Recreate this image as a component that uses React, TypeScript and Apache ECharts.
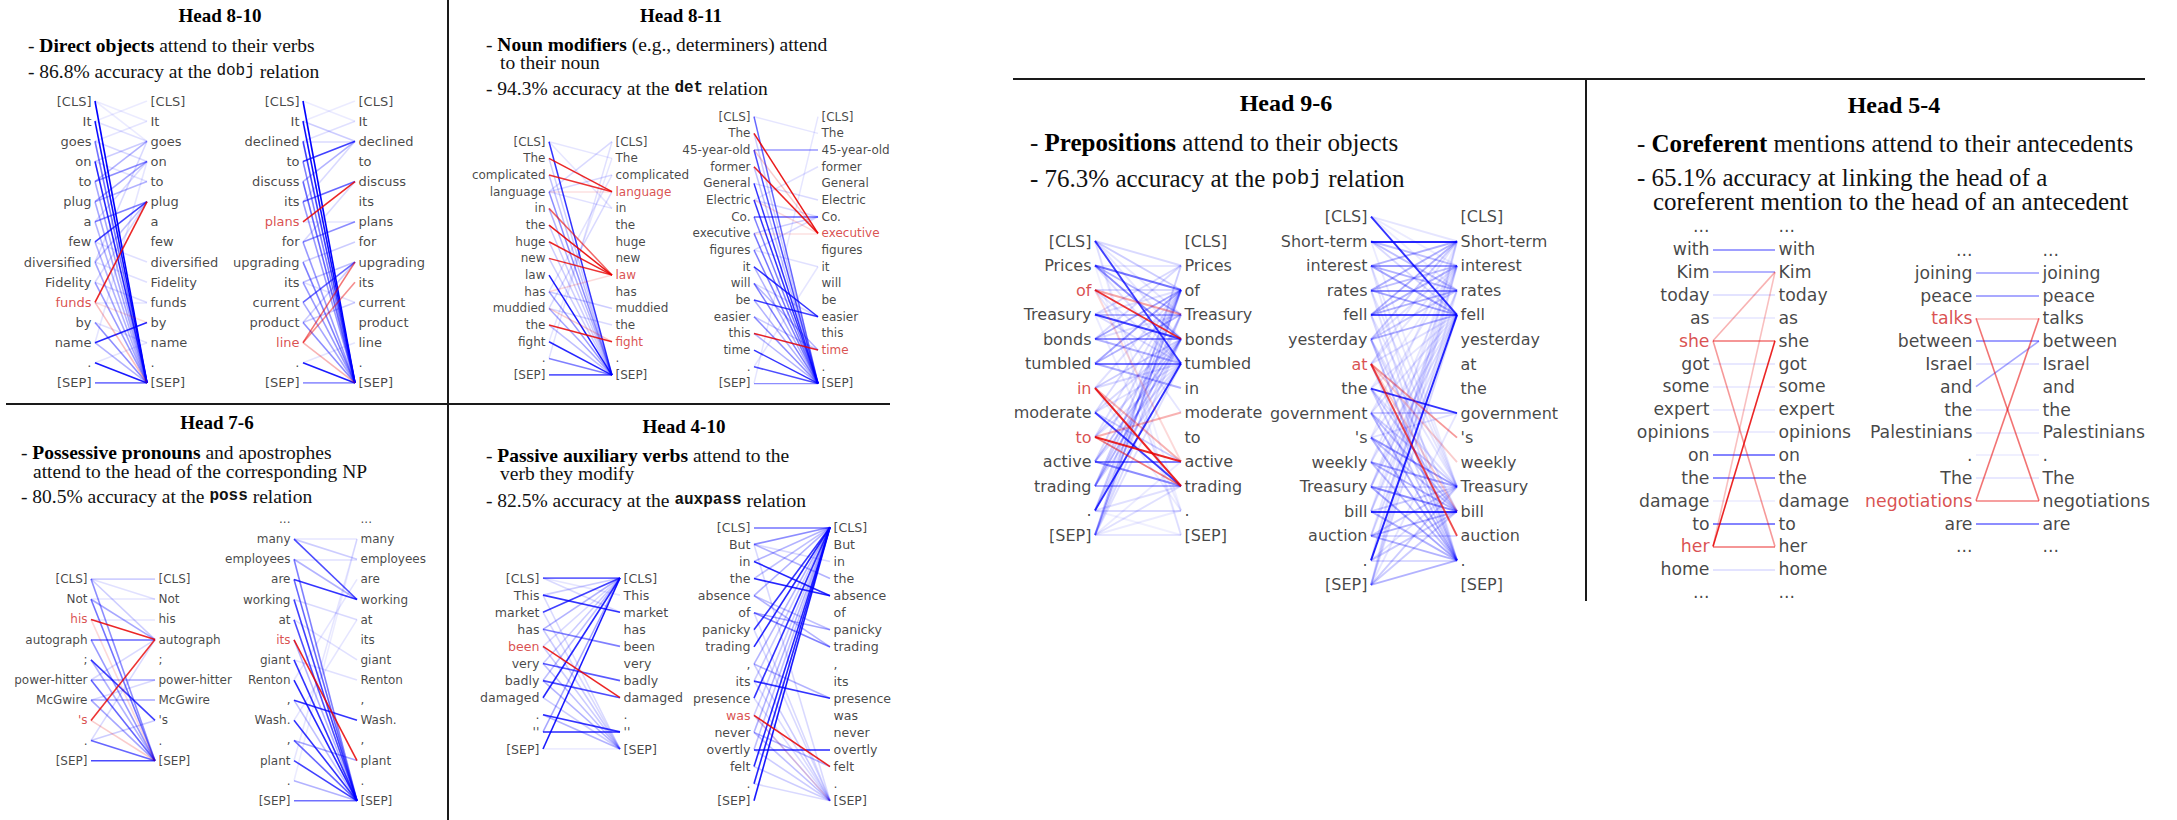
import React, { useEffect, useRef } from "react";
import * as echarts from "echarts";

type Edge = [number, number, number]; // [source token, target token, attention weight]

// ---------- tokens ----------
const tokensDobjA = ["[CLS]", "It", "goes", "on", "to", "plug", "a", "few", "diversified", "Fidelity", "funds", "by", "name", ".", "[SEP]"];
const tokensDobjB = ["[CLS]", "It", "declined", "to", "discuss", "its", "plans", "for", "upgrading", "its", "current", "product", "line", ".", "[SEP]"];
const tokensDetA = ["[CLS]", "The", "complicated", "language", "in", "the", "huge", "new", "law", "has", "muddied", "the", "fight", ".", "[SEP]"];
const tokensDetB = ["[CLS]", "The", "45-year-old", "former", "General", "Electric", "Co.", "executive", "figures", "it", "will", "be", "easier", "this", "time", ".", "[SEP]"];
const tokensPossA = ["[CLS]", "Not", "his", "autograph", ";", "power-hitter", "McGwire", "'s", ".", "[SEP]"];
const tokensPossB = ["...", "many", "employees", "are", "working", "at", "its", "giant", "Renton", ",", "Wash.", ",", "plant", ".", "[SEP]"];
const tokensAuxA = ["[CLS]", "This", "market", "has", "been", "very", "badly", "damaged", ".", "''", "[SEP]"];
const tokensAuxB = ["[CLS]", "But", "in", "the", "absence", "of", "panicky", "trading", ",", "its", "presence", "was", "never", "overtly", "felt", ".", "[SEP]"];
const tokensPobjA = ["[CLS]", "Prices", "of", "Treasury", "bonds", "tumbled", "in", "moderate", "to", "active", "trading", ".", "[SEP]"];
const tokensPobjB = ["[CLS]", "Short-term", "interest", "rates", "fell", "yesterday", "at", "the", "government", "'s", "weekly", "Treasury", "bill", "auction", ".", "[SEP]"];
const tokensCorefA = ["...", "with", "Kim", "today", "as", "she", "got", "some", "expert", "opinions", "on", "the", "damage", "to", "her", "home", "..."];
const tokensCorefB = ["...", "joining", "peace", "talks", "between", "Israel", "and", "the", "Palestinians", ".", "The", "negotiations", "are", "..."];

// ---------- attention weights ----------
const attnDobjA: Edge[] = [[0,14,1.0],[1,14,0.95],[2,14,0.55],[3,14,0.85],[4,14,0.35],[5,14,0.35],[6,14,0.3],[7,14,0.3],[8,14,0.35],[9,14,0.4],[11,14,0.45],[12,14,0.3],[13,14,0.9],[14,14,0.7],[4,3,0.45],[4,2,0.3],[5,3,0.35],[5,4,0.3],[6,5,0.5],[7,5,0.75],[8,5,0.25],[8,2,0.15],[9,5,0.15],[9,10,0.15],[12,11,0.85],[2,3,0.15],[3,2,0.2],[1,2,0.12],[2,1,0.1],[0,1,0.08],[0,2,0.08],[1,0,0.08],[3,4,0.12],[6,3,0.15],[7,8,0.12],[8,9,0.12],[11,12,0.12],[12,3,0.1],[13,12,0.1],[10,10,0.1]];
const relDobjA: Edge[] = [[10,5,0.85],[10,14,0.25],[10,11,0.12]];
const attnDobjB: Edge[] = [[0,14,1.0],[1,14,0.95],[2,14,0.75],[3,14,0.5],[4,14,0.6],[5,14,0.4],[7,14,0.4],[8,14,0.5],[9,14,0.4],[10,14,0.35],[11,14,0.45],[13,14,0.9],[14,14,0.55],[3,2,0.75],[5,4,0.6],[7,6,0.45],[10,8,0.6],[4,2,0.3],[1,2,0.2],[2,2,0.15],[8,7,0.2],[9,8,0.25],[11,10,0.2],[11,8,0.2],[2,1,0.12],[1,0,0.08],[0,1,0.08],[5,2,0.15],[7,4,0.15],[6,6,0.1],[9,10,0.12],[13,12,0.1]];
const relDobjB: Edge[] = [[6,4,0.85],[12,8,0.55],[12,9,0.45],[12,14,0.3]];
const attnDetA: Edge[] = [[0,14,0.8],[8,14,0.9],[12,14,0.85],[14,14,0.85],[13,14,0.5],[3,14,0.45],[9,14,0.4],[10,14,0.35],[2,14,0.25],[1,14,0.2],[4,14,0.3],[5,14,0.2],[6,14,0.2],[7,14,0.2],[11,14,0.25],[9,10,0.2],[10,11,0.15],[3,2,0.15],[0,1,0.1],[3,0,0.15],[13,0,0.12],[12,1,0.1],[10,3,0.15],[9,2,0.12],[0,4,0.1],[3,4,0.12]];
const relDetA: Edge[] = [[1,3,0.85],[2,3,0.8],[4,8,0.6],[5,8,0.9],[6,8,0.85],[7,8,0.8],[11,12,0.85],[10,12,0.2],[9,8,0.15],[3,3,0.12]];
const attnDetB: Edge[] = [[0,16,0.6],[2,16,0.7],[4,16,0.8],[5,16,0.8],[6,16,0.5],[7,16,0.55],[8,16,0.5],[9,12,0.8],[10,16,0.5],[11,12,0.75],[12,16,0.45],[14,16,0.8],[15,16,0.7],[16,16,0.6],[2,2,0.4],[6,6,0.6],[9,16,0.3],[11,16,0.3],[13,16,0.3],[10,14,0.3],[12,14,0.2],[7,6,0.2],[0,1,0.1],[4,5,0.15],[5,6,0.15],[3,16,0.25],[1,16,0.2],[8,6,0.15],[10,12,0.15],[13,14,0.1],[5,3,0.12],[8,9,0.12],[15,9,0.1],[16,0,0.1]];
const relDetB: Edge[] = [[1,7,0.9],[3,7,0.85],[13,14,0.85],[2,7,0.2],[5,7,0.15],[7,7,0.12]];
const attnPossA: Edge[] = [[0,0,0.25],[0,9,0.45],[0,3,0.2],[1,9,0.55],[1,3,0.35],[3,3,0.6],[3,9,0.4],[4,7,0.75],[4,9,0.3],[5,5,0.35],[5,9,0.6],[6,6,0.35],[6,9,0.35],[8,9,0.6],[8,3,0.15],[9,9,0.95],[0,1,0.12],[1,1,0.1],[6,5,0.15],[8,7,0.2],[5,3,0.15],[2,2,0.1]];
const relPossA: Edge[] = [[2,3,0.85],[7,3,0.8],[7,9,0.2],[2,9,0.15]];
const attnPossB: Edge[] = [[1,4,0.7],[1,2,0.2],[2,14,0.5],[2,4,0.3],[3,4,0.8],[3,14,0.6],[4,14,0.75],[5,14,0.7],[7,14,0.8],[8,14,0.85],[9,10,0.8],[10,14,0.8],[11,12,0.35],[11,14,0.6],[12,14,0.75],[13,14,0.3],[14,14,0.75],[12,1,0.1],[8,3,0.1],[10,5,0.1],[13,1,0.08],[1,1,0.1],[6,14,0.3],[9,14,0.25],[4,5,0.15],[7,8,0.12],[2,2,0.12],[5,7,0.12]];
const relPossB: Edge[] = [[6,12,0.85]];
const attnAuxA: Edge[] = [[0,0,0.8],[1,2,0.8],[2,0,0.75],[3,4,0.5],[5,6,0.65],[6,7,0.7],[7,0,0.85],[8,9,0.8],[9,9,0.85],[10,0,0.9],[9,0,0.35],[3,0,0.3],[5,0,0.2],[6,0,0.25],[1,0,0.2],[2,10,0.15],[1,10,0.15],[3,10,0.2],[4,10,0.2],[5,10,0.25],[6,10,0.3],[7,10,0.2],[8,10,0.3],[0,2,0.15],[0,1,0.1],[4,0,0.15],[10,10,0.1]];
const relAuxA: Edge[] = [[4,7,0.85]];
const attnAuxB: Edge[] = [[0,0,0.55],[1,0,0.45],[2,4,0.85],[3,4,0.85],[4,0,0.3],[5,7,0.5],[5,6,0.35],[6,0,0.8],[7,0,0.85],[8,0,0.3],[9,10,0.8],[10,0,0.8],[12,0,0.3],[13,13,0.85],[14,0,0.85],[15,0,0.85],[16,0,0.9],[1,3,0.3],[4,6,0.25],[4,7,0.3],[8,10,0.3],[8,16,0.2],[12,16,0.25],[13,16,0.2],[14,16,0.2],[15,16,0.15],[11,16,0.2],[10,16,0.15],[9,16,0.15],[1,16,0.15],[5,16,0.15],[12,14,0.3],[2,0,0.3],[3,0,0.25],[6,16,0.15],[1,2,0.15],[9,0,0.2],[11,0,0.2],[13,0,0.25]];
const relAuxB: Edge[] = [[11,14,0.85],[11,16,0.12]];
const attnPobjA: Edge[] = [[0,5,0.75],[0,1,0.15],[0,2,0.2],[1,2,0.55],[1,4,0.45],[1,3,0.3],[2,2,0.15],[3,4,0.75],[3,3,0.3],[3,1,0.15],[4,4,0.45],[4,2,0.35],[4,5,0.3],[4,1,0.15],[5,5,0.55],[5,2,0.35],[5,3,0.3],[5,6,0.3],[6,4,0.2],[7,10,0.75],[7,9,0.2],[7,4,0.15],[8,4,0.15],[9,9,0.5],[9,10,0.45],[9,4,0.25],[9,2,0.15],[10,10,0.35],[10,4,0.3],[10,3,0.2],[10,2,0.2],[11,5,0.8],[11,2,0.2],[11,11,0.15],[12,2,0.35],[12,1,0.2],[12,4,0.15],[12,12,0.1],[12,10,0.12],[11,10,0.12],[2,7,0.1],[0,12,0.08],[3,11,0.08],[6,11,0.08],
  [0,3,0.1],[0,4,0.1],[1,5,0.12],[2,5,0.12],[3,5,0.15],[6,5,0.15],[6,2,0.12],[7,2,0.15],[7,5,0.12],[8,2,0.12],[8,5,0.12],[9,5,0.15],[10,5,0.15],[11,4,0.15],[11,3,0.12],[12,3,0.12],[12,5,0.12],[3,2,0.12],[1,1,0.1],[4,3,0.12],[12,9,0.08],[12,11,0.08],[11,12,0.06],[0,11,0.06],[1,12,0.06]];
const relPobjA: Edge[] = [[2,4,0.8],[2,3,0.35],[6,10,0.85],[6,9,0.3],[8,9,0.85],[8,10,0.5],[8,7,0.3],[2,9,0.15]];
const attnPobjB: Edge[] = [[0,4,0.8],[0,1,0.1],[1,1,0.85],[1,2,0.25],[1,3,0.25],[2,2,0.4],[2,1,0.3],[2,3,0.3],[2,4,0.35],[3,3,0.45],[3,1,0.3],[3,2,0.25],[3,4,0.35],[4,4,0.7],[4,1,0.3],[4,2,0.3],[4,3,0.3],[5,4,0.3],[5,3,0.2],[5,1,0.2],[5,14,0.25],[5,12,0.15],[6,14,0.15],[7,8,0.8],[7,14,0.2],[7,12,0.2],[8,14,0.3],[8,12,0.25],[8,11,0.2],[8,8,0.2],[9,11,0.4],[9,14,0.3],[9,12,0.25],[10,11,0.35],[10,12,0.3],[10,14,0.25],[11,12,0.45],[11,14,0.35],[11,11,0.15],[12,12,0.8],[12,14,0.3],[12,11,0.2],[13,14,0.3],[13,12,0.3],[13,11,0.2],[13,13,0.15],[14,4,0.85],[14,12,0.2],[14,14,0.15],[15,14,0.3],[15,11,0.2],[15,12,0.2],[15,4,0.15],[15,2,0.1],[14,1,0.1],[11,3,0.1],[6,1,0.1],
  [0,2,0.08],[0,3,0.08],[1,4,0.15],[1,11,0.08],[2,11,0.1],[2,14,0.1],[3,14,0.12],[3,11,0.1],[4,14,0.15],[4,11,0.1],[5,2,0.12],[5,11,0.1],[6,4,0.12],[6,2,0.1],[7,4,0.1],[7,11,0.12],[8,4,0.12],[8,2,0.1],[9,4,0.1],[9,8,0.12],[10,4,0.12],[10,2,0.1],[11,4,0.15],[11,2,0.1],[12,4,0.12],[12,3,0.1],[13,4,0.15],[13,2,0.1],[14,2,0.1],[14,11,0.12],[15,1,0.1],[15,3,0.1],[15,8,0.1],[12,1,0.08],[9,1,0.08],[7,2,0.08]];
const relPobjB: Edge[] = [[6,13,0.7],[6,9,0.4],[6,10,0.2],[6,12,0.2]];
const attnCorefA: Edge[] = [[1,1,0.5],[2,2,0.4],[3,3,0.15],[4,4,0.1],[6,6,0.12],[7,7,0.1],[8,8,0.1],[9,9,0.1],[10,10,0.65],[11,11,0.6],[12,12,0.08],[13,13,0.65],[15,15,0.15]];
const relCorefA: Edge[] = [[5,5,0.55],[5,2,0.3],[5,14,0.4],[14,14,0.55],[14,5,0.85],[14,2,0.25]];
const attnCorefB: Edge[] = [[1,1,0.4],[2,2,0.45],[4,4,0.5],[5,5,0.15],[6,4,0.35],[7,7,0.12],[8,8,0.1],[9,9,0.08],[10,10,0.12],[12,12,0.6]];
const relCorefB: Edge[] = [[3,3,0.25],[3,11,0.55],[11,11,0.5],[11,3,0.55]];

// tokens printed in red on the left / right column
const redLeftDobjA = [10], redLeftDobjB = [6, 12];
const redRightDetA = [3, 8, 12], redRightDetB = [7, 14];
const redLeftPossA = [2, 7], redLeftPossB = [6];
const redLeftAuxA = [4], redLeftAuxB = [11];
const redLeftPobjA = [2, 6, 8], redLeftPobjB = [6];
const redLeftCorefA = [5, 14], redLeftCorefB = [3, 11];

// ---------- panel texts ----------
const panelTitles = ["Head 8-10", "Head 8-11", "Head 7-6", "Head 4-10", "Head 9-6", "Head 5-4"];
const panelNotes = [
  ["- {b|Direct objects} attend to their verbs", "- 86.8% accuracy at the {m|dobj} relation"],
  ["- {b|Noun modifiers} (e.g., determiners) attend", "to their noun", "- 94.3% accuracy at the {mb|det} relation"],
  ["- {b|Possessive pronouns} and apostrophes", "attend to the head of the corresponding NP", "- 80.5% accuracy at the {mb|poss} relation"],
  ["- {b|Passive auxiliary verbs} attend to the", "verb they modify", "- 82.5% accuracy at the {mb|auxpass} relation"],
  ["- {b|Prepositions} attend to their objects", "- 76.3% accuracy at the {m|pobj} relation"],
  ["- {b|Coreferent} mentions attend to their antecedents", "- 65.1% accuracy at linking the head of a", "coreferent mention to the head of an antecedent"],
];

// ---------- layout ----------
const diagrams = [
  { tokens: tokensDobjA, blue: attnDobjA, red: relDobjA, leftRed: redLeftDobjA, rightRed: [] as number[] },
  { tokens: tokensDobjB, blue: attnDobjB, red: relDobjB, leftRed: redLeftDobjB, rightRed: [] as number[] },
  { tokens: tokensDetA, blue: attnDetA, red: relDetA, leftRed: [] as number[], rightRed: redRightDetA },
  { tokens: tokensDetB, blue: attnDetB, red: relDetB, leftRed: [] as number[], rightRed: redRightDetB },
  { tokens: tokensPossA, blue: attnPossA, red: relPossA, leftRed: redLeftPossA, rightRed: [] as number[] },
  { tokens: tokensPossB, blue: attnPossB, red: relPossB, leftRed: redLeftPossB, rightRed: [] as number[] },
  { tokens: tokensAuxA, blue: attnAuxA, red: relAuxA, leftRed: redLeftAuxA, rightRed: [] as number[] },
  { tokens: tokensAuxB, blue: attnAuxB, red: relAuxB, leftRed: redLeftAuxB, rightRed: [] as number[] },
  { tokens: tokensPobjA, blue: attnPobjA, red: relPobjA, leftRed: redLeftPobjA, rightRed: [] as number[] },
  { tokens: tokensPobjB, blue: attnPobjB, red: relPobjB, leftRed: redLeftPobjB, rightRed: [] as number[] },
  { tokens: tokensCorefA, blue: attnCorefA, red: relCorefA, leftRed: redLeftCorefA, rightRed: [] as number[] },
  { tokens: tokensCorefB, blue: attnCorefB, red: relCorefB, leftRed: redLeftCorefB, rightRed: [] as number[] },
];

const diagramBoxes = [
  { x0: 95, x1: 147, top: 101, row: 20.14, font: 13, lw: 1.6 },
  { x0: 303, x1: 355, top: 101, row: 20.14, font: 13, lw: 1.6 },
  { x0: 549, x1: 612, top: 141.7, row: 16.67, font: 12, lw: 1.5 },
  { x0: 754, x1: 818, top: 116.7, row: 16.67, font: 12, lw: 1.5 },
  { x0: 91, x1: 155, top: 579, row: 20.2, font: 12, lw: 1.6 },
  { x0: 294, x1: 357, top: 519, row: 20.13, font: 12, lw: 1.6 },
  { x0: 543, x1: 620, top: 578, row: 17.1, font: 12.6, lw: 1.6 },
  { x0: 754, x1: 830, top: 527.3, row: 17.09, font: 12.6, lw: 1.6 },
  { x0: 1095, x1: 1181, top: 241, row: 24.5, font: 16, lw: 1.9 },
  { x0: 1371, x1: 1457, top: 216.7, row: 24.55, font: 16, lw: 1.9 },
  { x0: 1713, x1: 1775, top: 226.4, row: 22.86, font: 17.3, lw: 1.6 },
  { x0: 1976, x1: 2039, top: 249.9, row: 22.8, font: 17.3, lw: 1.6 },
];

const panelBoxes = [
  { cx: 220, ty: 15, size: 19.5, titleSize: 19, lines: [[28, 45], [28, 71]] },
  { cx: 681, ty: 15, size: 19.5, titleSize: 19, lines: [[486, 44], [500, 62.5], [486, 88]] },
  { cx: 217, ty: 422, size: 19.5, titleSize: 19, lines: [[21, 452.5], [33, 471], [21, 496]] },
  { cx: 684, ty: 426, size: 19.5, titleSize: 19, lines: [[486, 455], [500, 473.5], [486, 500]] },
  { cx: 1286, ty: 103, size: 25, titleSize: 24, lines: [[1030, 142], [1030, 178]] },
  { cx: 1894, ty: 105, size: 25, titleSize: 24, lines: [[1637, 143], [1637, 177.5], [1653, 201.5]] },
];

const INK = "#151515";
const RED_TEXT = "#d02424";
const BLUE_LINE = "#0000ff";
const RED_LINE = "#e80000";
const SERIF = "'Liberation Serif', 'DejaVu Serif', serif";
const MONO = "'Liberation Mono', 'DejaVu Sans Mono', monospace";
const SANS = "'DejaVu Sans', sans-serif";

function buildOption() {
  const grid: any[] = [];
  const xAxis: any[] = [];
  const yAxis: any[] = [];
  const series: any[] = [];

  diagrams.forEach((d, k) => {
    const b = diagramBoxes[k];
    const n = d.tokens.length;
    grid.push({ left: b.x0, top: b.top, width: b.x1 - b.x0, height: b.row * (n - 1), containLabel: false });
    xAxis.push({ gridIndex: k, type: "value", min: 0, max: 1, show: false });
    yAxis.push({ gridIndex: k, type: "value", min: 0, max: n - 1, inverse: true, show: false });

    const edgeData = (edges: Edge[]) =>
      edges.map(([a, c, w]) => ({ coords: [[0, a], [1, c]], lineStyle: { opacity: w } }));

    series.push({
      type: "lines", coordinateSystem: "cartesian2d", xAxisIndex: k, yAxisIndex: k, silent: true, z: 2,
      lineStyle: { color: BLUE_LINE, width: b.lw, curveness: 0 },
      data: edgeData(d.blue),
    });
    series.push({
      type: "lines", coordinateSystem: "cartesian2d", xAxisIndex: k, yAxisIndex: k, silent: true, z: 3,
      lineStyle: { color: RED_LINE, width: b.lw, curveness: 0 },
      data: edgeData(d.red),
    });

    const labelBase = { show: true, formatter: "{b}", fontFamily: SANS, fontSize: b.font, color: INK };
    series.push({
      type: "scatter", xAxisIndex: k, yAxisIndex: k, silent: true, z: 4,
      symbolSize: 1, itemStyle: { color: "rgba(0,0,0,0)" },
      label: { ...labelBase, position: "left", distance: 3 },
      data: d.tokens.map((t, i) => ({ name: t, value: [0, i], label: { color: d.leftRed.includes(i) ? RED_TEXT : INK } })),
    });
    series.push({
      type: "scatter", xAxisIndex: k, yAxisIndex: k, silent: true, z: 4,
      symbolSize: 1, itemStyle: { color: "rgba(0,0,0,0)" },
      label: { ...labelBase, position: "right", distance: 3 },
      data: d.tokens.map((t, i) => ({ name: t, value: [1, i], label: { color: d.rightRed.includes(i) ? RED_TEXT : INK } })),
    });
  });

  const graphic: any[] = [];
  panelBoxes.forEach((p, k) => {
    graphic.push({
      type: "text", x: p.cx, y: p.ty, silent: true,
      style: { text: panelTitles[k], fontFamily: SERIF, fontWeight: "bold", fontSize: p.titleSize, fill: "#000", align: "center", verticalAlign: "middle" },
    });
    panelNotes[k].forEach((t, j) => {
      const [x, y] = p.lines[j];
      graphic.push({
        type: "text", x, y, silent: true,
        style: {
          text: t, fontFamily: SERIF, fontSize: p.size, fill: "#111", align: "left", verticalAlign: "middle",
          rich: {
            b: { fontFamily: SERIF, fontWeight: "bold", fontSize: p.size, fill: "#000" },
            m: { fontFamily: MONO, fontSize: Math.round(p.size * 0.82), fill: "#111" },
            mb: { fontFamily: MONO, fontWeight: "bold", fontSize: Math.round(p.size * 0.82), fill: "#111" },
          },
        },
      });
    });
  });

  const rule = { stroke: "#1a1a1a", lineWidth: 2 };
  graphic.push({ type: "line", silent: true, shape: { x1: 448, y1: 0, x2: 448, y2: 820 }, style: rule });
  graphic.push({ type: "line", silent: true, shape: { x1: 6, y1: 404, x2: 890, y2: 404 }, style: rule });
  graphic.push({ type: "line", silent: true, shape: { x1: 1013, y1: 79, x2: 2145, y2: 79 }, style: rule });
  graphic.push({ type: "line", silent: true, shape: { x1: 1586, y1: 79, x2: 1586, y2: 601 }, style: rule });

  return {
    animation: false,
    backgroundColor: "#ffffff",
    grid,
    xAxis,
    yAxis,
    series,
    graphic,
  };
}

export default function App() {
  const ref = useRef<HTMLDivElement>(null);
  useEffect(() => {
    if (!ref.current) return;
    const chart = echarts.init(ref.current, null, { renderer: "svg" });
    chart.setOption(buildOption() as any);
    return () => chart.dispose();
  }, []);
  return (
    <div
      ref={ref}
      style={{ position: "absolute", left: 0, top: 0, width: 2177, height: 820, background: "#fff" }}
    />
  );
}
